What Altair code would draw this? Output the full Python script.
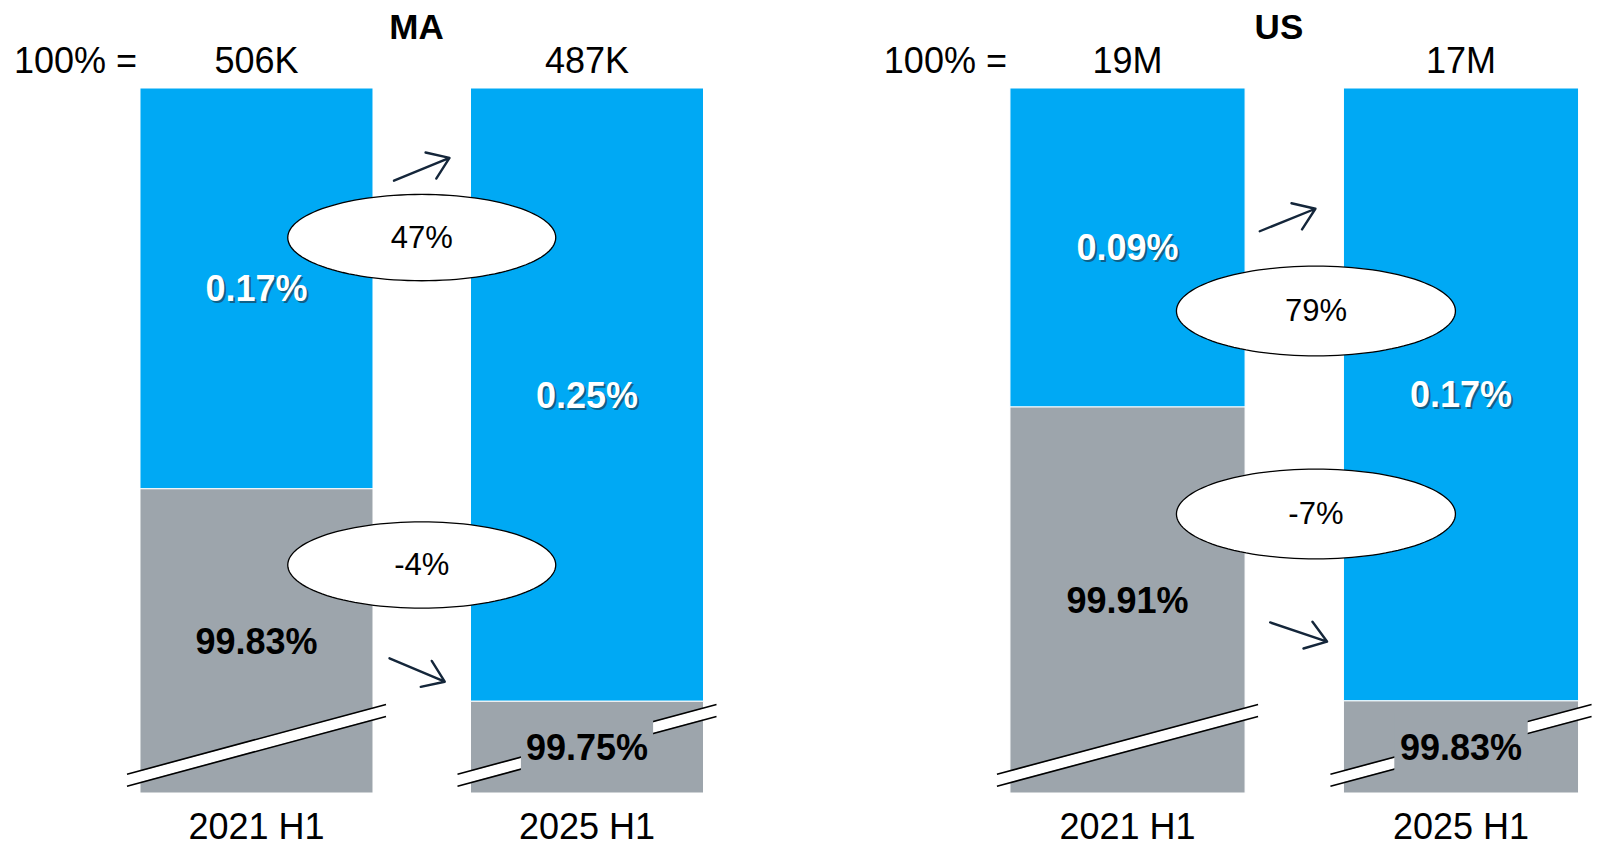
import numpy as np
import pandas as pd
import altair as alt

# ---------------- data ----------------
periods = ["2021 H1", "2025 H1"]

ma_totals = ["506K", "487K"]
ma_blue_share = [0.166, 0.254]          # blue segment size (share, %)
ma_blue_labels = ["0.17%", "0.25%"]
ma_gray_labels = ["99.83%", "99.75%"]
ma_changes = ["47%", "-4%"]             # upper = blue change, lower = gray change

us_totals = ["19M", "17M"]
us_blue_share = [0.089, 0.171]
us_blue_labels = ["0.09%", "0.17%"]
us_gray_labels = ["99.91%", "99.83%"]
us_changes = ["79%", "-7%"]

# ---------------- styling / layout ----------------
BLUE = "#00A9F4"
GRAY = "#9DA5AC"
ARROW = "#14263A"
FONT = "Liberation Sans"
H = 705
HW = 0.3525

def ellipse_path(ry=0.322, n=120):
    t = np.linspace(0, 2 * np.pi, n, endpoint=False)
    pts = [f"{np.cos(a):.4f},{ry * np.sin(a):.4f}" for a in t]
    return "M" + "L".join(pts) + "Z"

ELLIPSE = ellipse_path()
ARROW_PATH = "M-1,0L1,0M0.33,-0.47L1,0L0.33,0.47"

LAYOUT = {
    "MA": dict(width=659, xdom=[-0.4977, 1.4962], window=0.292, step=330.5,
               title_x=0.484, ell_x=0.5, ell_y=[149.6, 477], ell_w=268,
               arr_x=[0.5, 0.486], arr_y=[81.3, 582], arr_ang=[337.7, 23]),
    "US": dict(width=637, xdom=[-0.4993, 1.4108], window=0.1967, step=333.5,
               title_x=0.454, ell_x=0.565, ell_y=[223, 426], ell_w=279,
               arr_x=[0.48, 0.513], arr_y=[132, 544], arr_ang=[338, 18.6]),
}


def make_panel(name, totals, blue_share, blue_labels, gray_labels, changes):
    L = LAYOUT[name]
    lo = 100 - L["window"]
    xs = alt.Scale(domain=L["xdom"], nice=False, zero=False)
    ys = alt.Scale(domain=[lo, 100], nice=False, zero=False)
    n = len(periods)
    df = pd.DataFrame({"i": np.arange(n, dtype=float), "period": periods,
                       "total": totals, "blue": blue_share,
                       "blue_lab": blue_labels, "gray_lab": gray_labels})
    df["x0"] = df["i"] - HW
    df["x1"] = df["i"] + HW
    df["top"] = 100.0
    df["lo"] = lo
    df["split"] = 100.0 - df["blue"]
    df["blue_mid"] = (df["top"] + df["split"]) / 2
    df["gray_mid"] = (df["split"] + df["lo"]) / 2
    ext = 13 / L["step"]
    df["bx0"] = df["x0"] - ext
    df["bx1"] = df["x1"] + ext
    df["mx0"] = df["i"] - 0.2
    df["mx1"] = df["i"] + 0.2

    base = alt.Chart(df)

    def X(f):
        return alt.X(f, type="quantitative", scale=xs, axis=None)

    blue_bars = base.mark_rect(color=BLUE, stroke="white", strokeWidth=1).encode(
        x=alt.X("x0:Q", scale=xs,
                axis=alt.Axis(labels=False, ticks=False, grid=False, title=None,
                              domainColor="#000000", domainWidth=1.6)),
        x2="x1:Q",
        y=alt.Y("split:Q", scale=ys, axis=None), y2="top:Q")
    gray_bars = base.mark_rect(color=GRAY, stroke="white", strokeWidth=1).encode(
        x=X("x0"), x2="x1:Q",
        y=alt.Y("lo:Q", scale=ys, axis=None), y2="split:Q")

    brk_white = base.mark_rule(color="white", strokeWidth=10.5).encode(
        x=X("bx0"), x2="bx1:Q", y=alt.value(H - 12.8), y2=alt.value(H - 82.6))
    brk_up = base.mark_rule(color="black", strokeWidth=1.6).encode(
        x=X("bx0"), x2="bx1:Q", y=alt.value(H - 18.8), y2=alt.value(H - 88.6))
    brk_low = base.mark_rule(color="black", strokeWidth=1.6).encode(
        x=X("bx0"), x2="bx1:Q", y=alt.value(H - 6.8), y2=alt.value(H - 76.6))
    mask = base.transform_filter("datum.i == 1").mark_rect(color=GRAY).encode(
        x=X("mx0"), x2="mx1:Q", y=alt.value(H - 80), y2=alt.value(H - 14))

    arr_df = pd.DataFrame({"ax": L["arr_x"], "ay": L["arr_y"], "ang": L["arr_ang"]})
    arrows = alt.Chart(arr_df).mark_point(
        shape=ARROW_PATH, filled=False, stroke=ARROW, strokeWidth=2.4,
        size=3600, opacity=1, strokeCap="round", strokeJoin="round").encode(
        x=alt.X("ax:Q", scale=xs, axis=None),
        y=alt.Y("ay:Q", scale=None),
        angle=alt.Angle("ang:Q", scale=None))

    ell_df = pd.DataFrame({"ex": [L["ell_x"]] * 2, "ey": L["ell_y"], "chg": changes})
    ellipses = alt.Chart(ell_df).mark_point(
        shape=ELLIPSE, filled=True, fill="white", stroke="black", strokeWidth=1.3,
        size=L["ell_w"] ** 2, opacity=1).encode(
        x=alt.X("ex:Q", scale=xs, axis=None), y=alt.Y("ey:Q", scale=None))
    ell_txt = alt.Chart(ell_df).mark_text(
        font=FONT, fontSize=31, color="black", baseline="middle", dy=1).encode(
        x=alt.X("ex:Q", scale=xs, axis=None), y=alt.Y("ey:Q", scale=None),
        text="chg:N")

    tot_txt = base.mark_text(font=FONT, fontSize=36, color="black",
                             baseline="alphabetic").encode(
        x=X("i"), y=alt.value(-15), text="total:N")
    hundred = base.transform_filter("datum.i == 0").mark_text(
        font=FONT, fontSize=36, color="black", baseline="alphabetic",
        align="right", dx=-3).encode(
        x=X("x0"), y=alt.value(-15), text=alt.value("100% ="))
    title_df = pd.DataFrame({"tx": [L["title_x"]], "name": [name]})
    title = alt.Chart(title_df).mark_text(
        font=FONT, fontSize=35, fontWeight="bold", color="black",
        baseline="alphabetic").encode(
        x=alt.X("tx:Q", scale=xs, axis=None), y=alt.value(-48.7), text="name:N")
    per_txt = base.mark_text(font=FONT, fontSize=36, color="black",
                             baseline="alphabetic").encode(
        x=X("i"), y=alt.value(H + 45.8), text="period:N")

    blue_shadow = base.mark_text(font=FONT, fontSize=36, fontWeight="bold",
                                 color="#1d2630", opacity=0.55, baseline="middle",
                                 dx=2, dy=4).encode(
        x=X("i"), y=alt.Y("blue_mid:Q", scale=ys, axis=None), text="blue_lab:N")
    blue_txt = base.mark_text(font=FONT, fontSize=36, fontWeight="bold",
                              color="white", baseline="middle", dy=2).encode(
        x=X("i"), y=alt.Y("blue_mid:Q", scale=ys, axis=None), text="blue_lab:N")
    gray_txt = base.mark_text(font=FONT, fontSize=36, fontWeight="bold",
                              color="black", baseline="middle", dy=2).encode(
        x=X("i"), y=alt.Y("gray_mid:Q", scale=ys, axis=None), text="gray_lab:N")

    return alt.layer(
        blue_bars, gray_bars, brk_white, brk_up, brk_low, mask, arrows,
        ellipses, ell_txt, tot_txt, hundred, title, per_txt,
        blue_shadow, blue_txt, gray_txt
    ).properties(width=L["width"], height=H)


ma = make_panel("MA", ma_totals, ma_blue_share, ma_blue_labels, ma_gray_labels, ma_changes)
us = make_panel("US", us_totals, us_blue_share, us_blue_labels, us_gray_labels, us_changes)

chart = alt.hconcat(ma, us, spacing=210, bounds="flush").properties(
    padding={"left": 5, "top": 3, "right": 0, "bottom": 0},
    background="white",
).configure_view(strokeWidth=0)

chart.save("out.html", embed_options={"renderer": "svg", "actions": False})
